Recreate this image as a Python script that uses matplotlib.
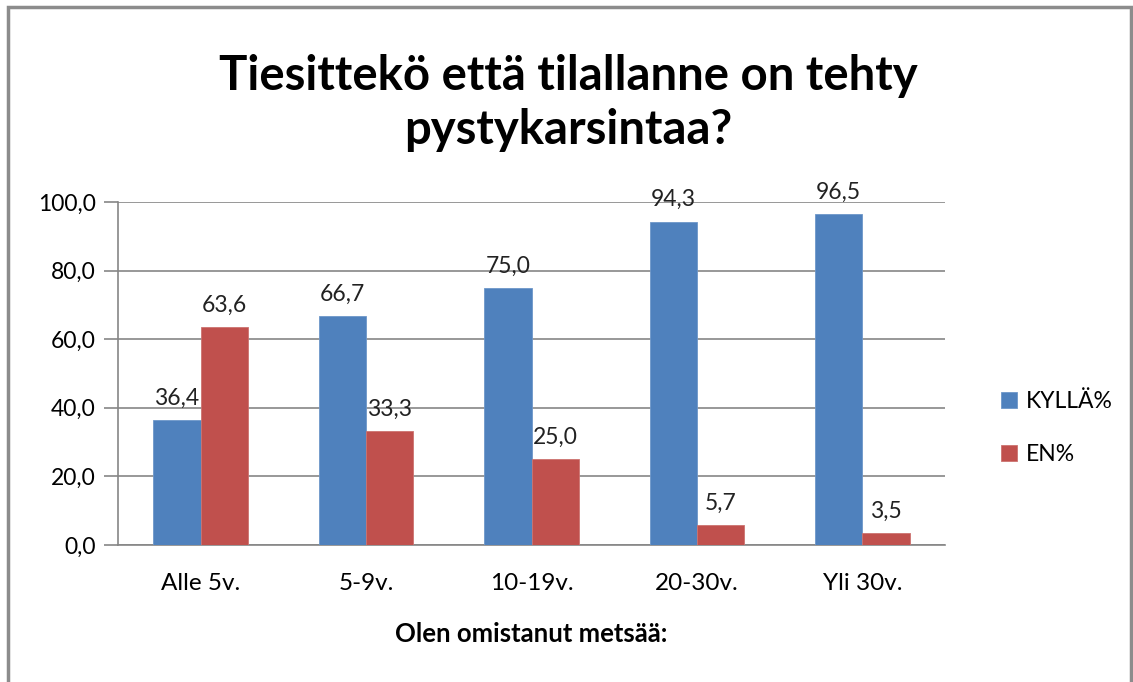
import matplotlib as mpl
import matplotlib.pyplot as plt
import numpy as np

mpl.rcParams.update({
    "font.family": ['Lato', 'DejaVu Sans'],
    "axes.unicode_minus": False,
})

# data
categories = ['Alle 5v.', '5-9v.', '10-19v.', '20-30v.', 'Yli 30v.']
kylla = [36.4, 66.7, 75.0, 94.3, 96.5]
en = [63.6, 33.3, 25.0, 5.7, 3.5]
series_names = ['KYLLÄ%', 'EN%']
colors = ['#4F81BD', '#C0504D']

fig = plt.figure(figsize=(11.33, 6.82), dpi=100)
ax = fig.add_axes([118/1133, 1 - 545/682, (945-118)/1133, (545-202)/682])

# border round the whole chart
fig.patches.append(mpl.patches.Rectangle((8/1133, -0.01), (1131-8)/1133, 1.01 - 7/682,
                                         transform=fig.transFigure, fill=False,
                                         edgecolor='#8c8c8c', linewidth=2.5))

x = np.arange(len(categories))
w = 0.286
b1 = ax.bar(x - w/2, kylla, w, color=colors[0], edgecolor='#6d97c9', linewidth=0.6, label=series_names[0], zorder=3)
b2 = ax.bar(x + w/2, en, w, color=colors[1], edgecolor='#cc7370', linewidth=0.6, label=series_names[1], zorder=3)

fmt = lambda v: f'{v:.1f}'.replace('.', ',')
for bars, vals in ((b1, kylla), (b2, en)):
    for r, v in zip(bars, vals):
        ax.text(r.get_x() + r.get_width()/2, v + 3.3, fmt(v), ha='center', va='bottom',
                fontsize=16.5, color='#222222', zorder=4)

ax.set_xlim(-0.5, len(categories) - 0.5)
ax.set_ylim(0, 100)
ax.set_yticks(np.arange(0, 101, 20))
ax.set_yticklabels([fmt(v) for v in np.arange(0, 101, 20)], fontsize=16.5)
ax.set_xticks(x)
ax.set_xticklabels(categories, fontsize=17.5)
ax.tick_params(axis='x', length=0, pad=20)
ax.tick_params(axis='y', length=10, color='#868686', width=1.2, pad=6)
ax.yaxis.grid(True, color='#868686', linewidth=1.2, zorder=0)
for s in ('top', 'right'):
    ax.spines[s].set_visible(False)
for s in ('left', 'bottom'):
    ax.spines[s].set_color('#868686')
    ax.spines[s].set_linewidth(1.2)

ax.set_xlabel('Olen omistanut metsää:', fontsize=18.5, fontweight='bold', labelpad=20)

fig.text(568/1133, 1 - 103/682, 'Tiesittekö että tilallanne on tehty\npystykarsintaa?',
         ha='center', va='center', fontsize=34, fontweight='bold', linespacing=1.3)

ax.legend(loc='center left', bbox_to_anchor=(980/1133, 1 - 428/682), bbox_transform=fig.transFigure,
          frameon=False, fontsize=16.5, handlelength=0.7, handleheight=0.7, handletextpad=0.4,
          labelspacing=1.4)

fig.savefig('out.png', dpi=100)
